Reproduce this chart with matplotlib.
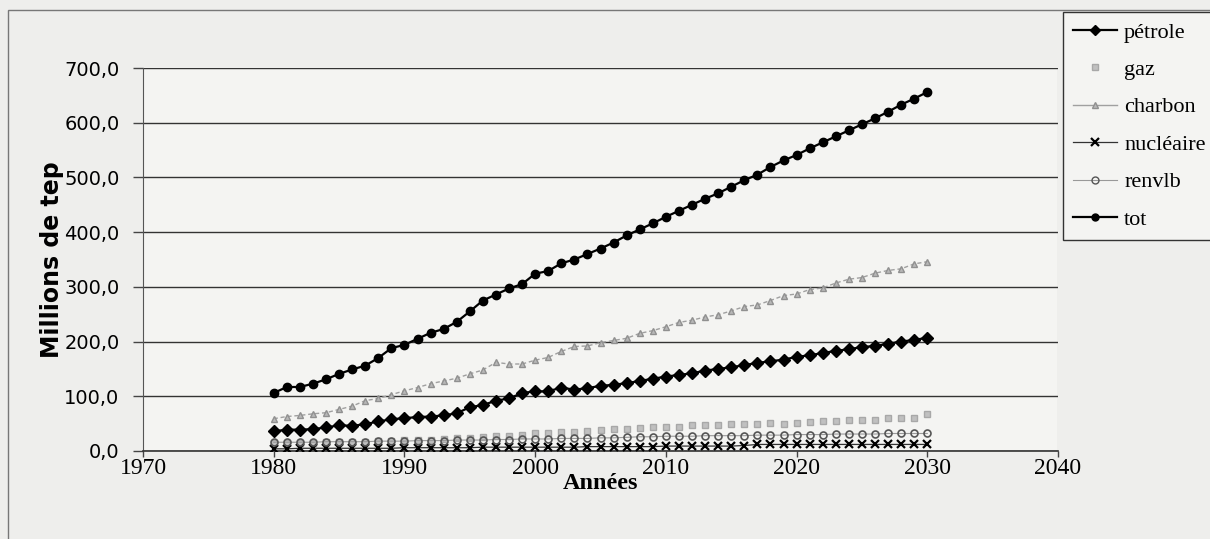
import matplotlib
matplotlib.use("Agg")
import matplotlib.pyplot as plt
from matplotlib.patches import Rectangle
from matplotlib.lines import Line2D

years = list(range(1980, 2031))

petrole = [36, 39, 39, 40, 43, 47, 46, 49, 54, 58,
           60, 62, 63, 65, 69, 80, 84, 92, 96, 106,
           109, 109, 116, 112, 115, 119, 121, 124, 128, 132,
           136, 139, 142, 147, 150, 153, 157, 161, 164, 167,
           172, 175, 179, 183, 186, 190, 192, 196, 200, 203,
           207]
gaz = [14, 14, 15, 15, 16, 16, 17, 17, 18, 19,
       20, 20, 21, 22, 23, 24, 26, 27, 28, 30,
       32, 33, 34, 35, 36, 38, 40, 40, 42, 43,
       44, 44, 47, 47, 47, 49, 49, 49, 52, 50,
       52, 53, 55, 55, 57, 57, 57, 61, 61, 61,
       67]
charbon = [59, 63, 65, 68, 70, 76, 82, 92, 96, 103,
           110, 116, 123, 128, 133, 141, 148, 162, 159, 159,
           166, 171, 182, 191, 192, 198, 202, 206, 215, 220,
           227, 235, 239, 245, 249, 256, 264, 267, 275, 284,
           287, 295, 298, 307, 314, 317, 325, 330, 333, 342,
           346]
nucleaire = [4, 4, 5, 5, 5, 5, 5, 5, 5, 5,
             6, 6, 6, 6, 6, 6, 7, 7, 7, 7,
             7, 7, 7, 7, 8, 8, 8, 8, 8, 8,
             9, 9, 9, 9, 9, 9, 10, 12, 12, 12,
             12, 12, 12, 12, 12, 12, 12, 12, 12, 12,
             12]
renvlb = [16, 16, 16, 16, 17, 17, 17, 17, 18, 18,
          18, 19, 19, 19, 20, 20, 20, 21, 21, 22,
          22, 22, 23, 23, 23, 24, 24, 25, 26, 26,
          27, 27, 27, 28, 28, 28, 28, 29, 29, 29,
          30, 30, 30, 31, 31, 31, 31, 32, 32, 32,
          32]
tot = [106, 117, 117, 123, 131, 141, 149, 156, 170, 188,
       194, 205, 216, 223, 236, 255, 275, 286, 297, 305,
       324, 329, 343, 350, 360, 370, 381, 394, 405, 416,
       428, 439, 450, 461, 471, 483, 495, 505, 519, 531,
       541, 553, 564, 575, 586, 597, 608, 620, 633, 644,
       656]

series_names = ["pétrole", "gaz", "charbon", "nucléaire", "renvlb", "tot"]

xtick_values = [1970, 1980, 1990, 2000, 2010, 2020, 2030, 2040]
xtick_labels = ["1970", "1980", "1990", "2000", "2010", "2020", "2030", "2040"]
ytick_values = [0, 100, 200, 300, 400, 500, 600, 700]
ytick_labels = ["0,0", "100,0", "200,0", "300,0", "400,0", "500,0", "600,0", "700,0"]

W, H = 1210, 539
fig = plt.figure(figsize=(W / 100, H / 100), dpi=100)
fig.patch.set_facecolor("#eeeeec")

# outer chart border
fig.add_artist(Rectangle((8 / W, -0.01), 1.0, 1 - 10 / H + 0.01, transform=fig.transFigure,
                         fill=False, edgecolor="#777777", linewidth=1.0))

ax = fig.add_axes([143 / W, 1 - 451 / H, (1058 - 143) / W, (451 - 68) / H])
ax.set_facecolor("#f4f4f2")

ax.plot(years, petrole, color="black", lw=1.6, marker="D", ms=6, mfc="black", mec="black", zorder=5)
ax.plot(years, gaz, color="#b0b0b0", lw=0, marker="s", ms=4, mfc="#c0c0c0", mec="#a8a8a8", zorder=3)
ax.plot(years, charbon, color="#a0a0a0", lw=1.0, ls=(0, (3, 2)), marker="^", ms=5, mfc="#b8b8b8", mec="#909090", zorder=4)
ax.plot(years, nucleaire, color="#333333", lw=0.9, marker="x", ms=6, mew=1.6, mec="black", zorder=4)
ax.plot(years, renvlb, color="#999999", lw=0.8, marker="o", ms=5, mfc="none", mec="#555555", mew=1.2, zorder=4)
ax.plot(years, tot, color="black", lw=1.6, marker="o", ms=6, mfc="black", mec="black", zorder=5)

ax.set_xlim(1970, 2040)
ax.set_ylim(0, 700)
ax.set_xticks(xtick_values)
ax.set_xticklabels(xtick_labels, fontfamily="Liberation Serif", fontsize=17)
ax.set_yticks(ytick_values)
ax.set_yticklabels(ytick_labels, fontfamily="DejaVu Sans", fontsize=14)
ax.yaxis.grid(True, color="#333333", lw=1.0)
ax.set_axisbelow(True)
ax.tick_params(axis="y", direction="out", length=7, width=1, color="#444444", pad=10)
ax.tick_params(axis="x", direction="out", length=4, width=1, color="#444444", pad=1)
for s in ["top", "right"]:
    ax.spines[s].set_visible(False)
ax.spines["left"].set_color("#555555")
ax.spines["bottom"].set_color("#333333")
ax.spines["bottom"].set_linewidth(1.2)
ax.axvline(2040, color="#888888", lw=0.8)

ax.set_xlabel("Années", fontfamily="Liberation Serif", fontweight="bold", fontsize=17.5, labelpad=-4)
ax.set_ylabel("Millions de tep", fontfamily="DejaVu Sans", fontweight="bold", fontsize=17, labelpad=0)

handles = [
    Line2D([], [], color="black", lw=1.6, marker="D", ms=5, mfc="black"),
    Line2D([], [], color="#b0b0b0", lw=0, marker="s", ms=4, mfc="#c0c0c0", mec="#a8a8a8"),
    Line2D([], [], color="#a0a0a0", lw=1.0, marker="^", ms=5, mfc="#b8b8b8", mec="#909090"),
    Line2D([], [], color="#333333", lw=0.9, marker="x", ms=6, mew=1.6, mec="black"),
    Line2D([], [], color="#999999", lw=0.8, marker="o", ms=5, mfc="none", mec="#555555"),
    Line2D([], [], color="black", lw=1.6, marker="o", ms=5, mfc="black"),
]
leg = fig.legend(handles, series_names, loc="upper left", bbox_to_anchor=(1063 / W, 1 - 12 / H),
                 bbox_transform=fig.transFigure, fancybox=False, framealpha=1, edgecolor="#333333",
                 facecolor="#f4f4f2", prop={"family": "Liberation Serif", "size": 16},
                 labelspacing=0.76, handlelength=2.0, handletextpad=0.3, borderpad=0.45,
                 borderaxespad=0)
leg.get_frame().set_linewidth(1.0)

fig.savefig("out.png", dpi=100, facecolor=fig.get_facecolor())
